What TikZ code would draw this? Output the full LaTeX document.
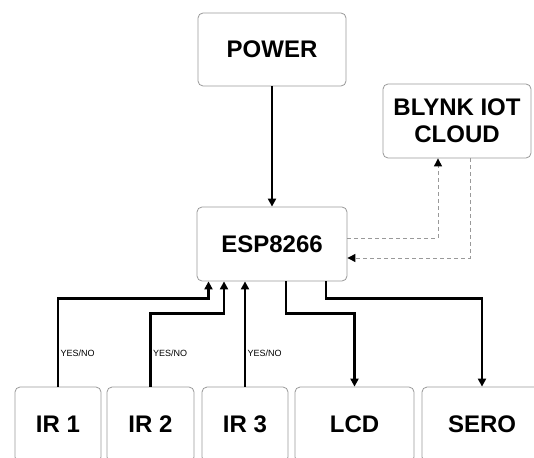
\documentclass[tikz,border=0pt]{standalone}
\usepackage{fontspec}
\setmainfont{Liberation Sans}
\usepackage{xcolor}
\usetikzlibrary{arrows.meta, positioning, calc}

\begin{document}
\begin{tikzpicture}[x=1pt, y=-1pt, font=\bfseries\fontsize{24}{27}\selectfont,
  >={Triangle[length=8pt, width=8pt]},
  blk/.style={draw=black!40, line width=0.8pt, rounded corners=5pt, fill=white,
    inner sep=0pt, align=center},
  arr/.style={->, line width=2.2pt, black},
  dsh/.style={-{Triangle[length=8pt, width=8pt, black]}, draw=black!40,
    line width=1pt, dash pattern=on 4pt off 3pt},
  yn/.style={font=\fontsize{9}{9}\selectfont, inner sep=1.5pt, anchor=west}]
  \useasboundingbox (0,0) rectangle (534,457);
  \clip (0,0) rectangle (534,457);
  % boxes
  \node[blk, minimum width=148pt, minimum height=73pt] (pwr) at (272,49.5) {POWER};
  \node[blk, minimum width=148pt, minimum height=74pt] (blynk) at (457,121) {BLYNK IOT\\CLOUD};
  \node[blk, minimum width=150pt, minimum height=74pt] (esp) at (272,244) {ESP8266};
  \node[blk, minimum width=86pt, minimum height=75pt] (ir1) at (58,424.5) {IR 1};
  \node[blk, minimum width=87pt, minimum height=75pt] (ir2) at (150.5,424.5) {IR 2};
  \node[blk, minimum width=86pt, minimum height=75pt] (ir3) at (245,424.5) {IR 3};
  \node[blk, minimum width=119pt, minimum height=75pt] (lcd) at (354.5,424.5) {LCD};
  \node[blk, minimum width=120pt, minimum height=75pt] (sero) at (482,424.5) {SERO};
  % power and cloud
  \draw[arr] (pwr) -- (esp);
  \draw[dsh] ([yshift=6pt]esp.east) -| ([xshift=-19pt]blynk.south);
  \draw[dsh] ([xshift=13pt]blynk.south) |- ([yshift=-14pt]esp.east);
  % sensors in
  \draw[arr] (ir1.north) |- ([xshift=-63.5pt, yshift=-17pt]esp.south) -- ([xshift=-63.5pt]esp.south);
  \draw[arr] (ir2.north) |- ([xshift=-48pt, yshift=-32pt]esp.south) -- ([xshift=-48pt]esp.south);
  \draw[arr] (ir3.north) -- (ir3.north |- esp.south);
  \node[yn] (yn1) at ([xshift=1pt, yshift=33pt]ir1.north) {YES/NO};
  \node[yn] (yn2) at ([xshift=1pt, yshift=33pt]ir2.north) {YES/NO};
  \node[yn] (yn3) at ([xshift=1pt, yshift=33pt]ir3.north) {YES/NO};
  % outputs
  \draw[arr] ([xshift=14pt]esp.south) |- ([yshift=-32pt]esp.south -| lcd.north) -- (lcd.north);
  \draw[arr] ([xshift=54pt]esp.south) |- ([yshift=-17pt]esp.south -| sero.north) -- (sero.north);
\end{tikzpicture}
\end{document}
